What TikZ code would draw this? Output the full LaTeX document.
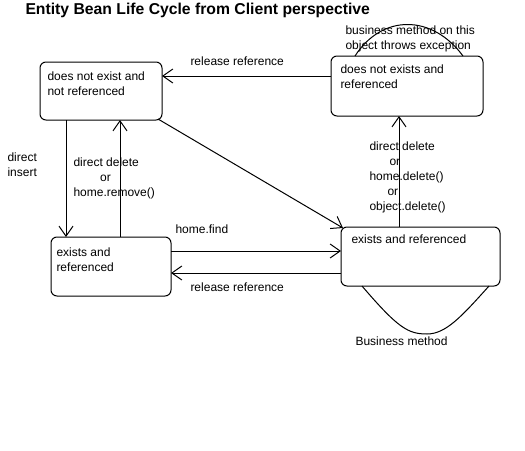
\documentclass[tikz,border=0pt]{standalone}
\usepackage{fontspec}
\setmainfont{Liberation Sans}
\usetikzlibrary{arrows.meta}
\begin{document}
\begin{tikzpicture}[x=0.75pt,y=-0.75pt,
  line width=0.75pt,
  box/.style={draw, rounded corners=4.5pt, inner sep=0pt},
  lbl/.style={font=\fontsize{9}{11.25}\selectfont, inner sep=0pt, anchor=north west, align=left},
  arr/.style={-{Straight Barb[length=7.5pt,width=10.5pt]}}]
\useasboundingbox (0,0) rectangle (525,450);
% title
\node[anchor=north west, inner sep=0pt, font=\fontsize{11.8}{14}\selectfont\bfseries] (title) at (25,3) {Entity Bean Life Cycle from Client perspective};
% states
\node[box, minimum width=91.5pt, minimum height=43.5pt] (A) at (101,91) {};
\node[box, minimum width=114pt, minimum height=45pt] (B) at (407,86) {};
\node[box, minimum width=90pt, minimum height=44.25pt] (C) at (111,266.5) {};
\node[box, minimum width=119.25pt, minimum height=44.25pt] (D) at (420.5,256.5) {};
% state texts
\node[lbl] (At) at (47,71) {does not exist and\\not referenced};
\node[lbl] (Bt) at (340,64) {does not exists and\\referenced};
\node[lbl] (Ct) at (56,247) {exists and\\referenced};
\node[lbl] (Dt) at (351,234) {exists and referenced};
% connectors
\coordinate (b1) at (331,76);
\coordinate (a1) at (162,76);
\draw[arr] (b1) -- (a1);
\coordinate (a2) at (66,120);
\coordinate (c2) at (66,237);
\draw[arr] (a2) -- (c2);
\coordinate (c3) at (120,237);
\coordinate (a3) at (120,120);
\draw[arr] (c3) -- (a3);
\coordinate (a4) at (158,119);
\coordinate (d4) at (343,228);
\draw[arr] (a4) -- (d4);
\coordinate (c5) at (171,251);
\coordinate (d5) at (341,251);
\draw[arr] (c5) -- (d5);
\coordinate (d6) at (341,273);
\coordinate (c6) at (171,273);
\draw[arr] (d6) -- (c6);
\coordinate (d7) at (399,227);
\coordinate (b7) at (399,116);
\draw[arr] (d7) -- (b7);
% self loops
\coordinate (bl) at (355,56);
\coordinate (br) at (463,56);
\draw (bl) .. controls (382,14) and (432,14) .. (br);
\coordinate (dl) at (362,286);
\coordinate (dr) at (489,286);
\draw (dl) .. controls (398,328) and (408,334) .. (427,334) .. controls (446,334) and (462,316) .. (dr);
% labels
\node[lbl] (l1) at (190,56) {release reference};
\node[lbl] (l2) at (345,25) {business method on this\\object throws exception};
\node[lbl] (l3) at (7,152) {direct\\insert};
\node[lbl] (l4) at (73,157) {direct delete\\\hspace*{20pt}or\\home.remove()};
\node[lbl] (l5) at (175,224) {home.find};
\node[lbl] (l6) at (190,282) {release reference};
\node[lbl] (l7) at (369,141) {direct delete\\\hspace*{15pt}or\\home.delete()\\\hspace*{13.5pt}or\\object.delete()};
\node[lbl] (l8) at (355,336) {Business method};
\end{tikzpicture}
\end{document}
